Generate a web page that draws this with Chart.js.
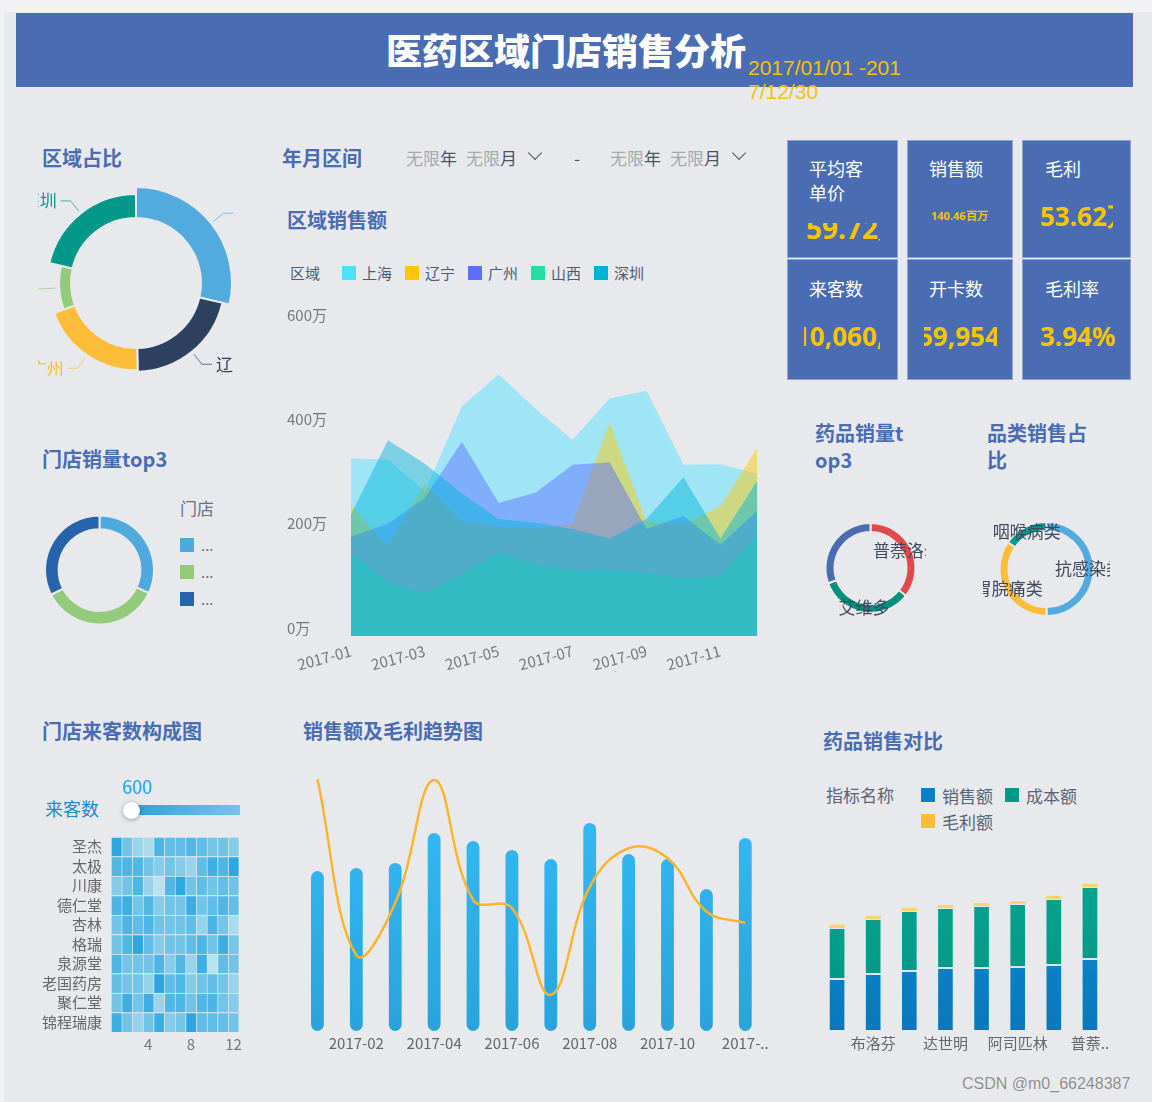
<!DOCTYPE html>
<html lang="zh-CN">
<head>
<meta charset="UTF-8">
<title>医药区域门店销售分析</title>
<script src="https://cdn.jsdelivr.net/npm/chart.js"></script>
<style>
  html, body { margin: 0; padding: 0; }
  body {
    width: 1152px; height: 1102px; position: relative; overflow: hidden;
    background: #f2f2f4;
    font-family: "Noto Sans CJK SC", "Noto Sans", sans-serif;
  }
  #board { position: absolute; left: 4px; top: 12px; right: 0; bottom: 0; background: #e8e9ed; }
  .abs { position: absolute; white-space: nowrap; }
  canvas { position: absolute; }
  .head { left: 16px; top: 13px; width: 1117px; height: 74px; background: #4a6cb3; }
  .head-title { left: 386px; top: 29px; font-size: 36px; line-height: 40px; font-weight: 900; color: #fff; }
  .head-date { left: 748px; top: 56px; font: 21px/24px "Liberation Sans", Arial, sans-serif; color: #f5c200; }
  .sec { font-size: 20px; line-height: 27px; font-weight: bold; color: #4a6cb3; }
  .filter { top: 147px; font-size: 17px; line-height: 22px; color: #4a5266; }
  .filter .g { color: #a3a8b3; }
  .chev { width: 9px; height: 9px; border-right: 1.6px solid #4a5266; border-bottom: 1.6px solid #4a5266; transform: rotate(45deg); }
  .card { background: #4a6cb3; box-sizing: border-box; border: 1px solid #8ea3d3; }
  .kt { font-size: 18px; line-height: 24px; color: #fff; }
  .clip { overflow: hidden; }
  .kv { position: absolute; font-family: "Noto Sans", sans-serif; font-weight: bold; color: #f6c500; white-space: nowrap; }
  .lg { display: flex; align-items: center; font-size: 15px; color: #4c5a72; }
  .lg .box { width: 14px; height: 14px; margin-right: 6px; }
  .lg .it { display: flex; align-items: center; margin-right: 13px; }
  .foot { left: 962px; top: 1074px; font: 16px/20px "Liberation Sans", Arial, sans-serif; color: #8c8c8c; text-shadow: 0 0 1px #fff; }
</style>
</head>
<body>
<div id="board"></div>

<div class="abs head"></div>
<div class="abs head-title">医药区域门店销售分析</div>
<div class="abs head-date">2017/01/01 -201<br>7/12/30</div>

<div class="abs sec" style="left:42px;top:144px">区域占比</div>
<div class="abs sec" style="left:282px;top:144px">年月区间</div>
<div class="abs sec" style="left:287px;top:206px">区域销售额</div>
<div class="abs sec" style="left:42px;top:445px">门店销量top3</div>
<div class="abs sec" style="left:815px;top:419px">药品销量t<br>op3</div>
<div class="abs sec" style="left:987px;top:419px">品类销售占<br>比</div>
<div class="abs sec" style="left:42px;top:717px">门店来客数构成图</div>
<div class="abs sec" style="left:303px;top:717px">销售额及毛利趋势图</div>
<div class="abs sec" style="left:823px;top:727px">药品销售对比</div>

<div class="abs filter" style="left:406px"><span class="g">无限</span>年</div>
<div class="abs filter" style="left:466px"><span class="g">无限</span>月</div>
<div class="abs chev" style="left:530px;top:148px"></div>
<div class="abs filter" style="left:574px">-</div>
<div class="abs filter" style="left:610px"><span class="g">无限</span>年</div>
<div class="abs filter" style="left:670px"><span class="g">无限</span>月</div>
<div class="abs chev" style="left:734px;top:148px"></div>

<div id="kpis"></div>

<canvas id="regionPie" width="196" height="200" style="left:38px;top:183px"></canvas>

<canvas id="storePie" width="109" height="110" style="left:45px;top:515px"></canvas>
<div class="abs" id="storeLegend" style="left:180px;top:497px"></div>

<div class="abs lg" id="areaLegend" style="left:290px;top:262px"></div>
<canvas id="areaChart" width="485" height="380" style="left:283px;top:303px"></canvas>

<canvas id="drugPie" width="111" height="120" style="left:815px;top:508px"></canvas>
<canvas id="catPie" width="127" height="120" style="left:983px;top:509px"></canvas>

<div class="abs" style="left:45px;top:797px;font-size:18px;line-height:22px;color:#1a8ad0">来客数</div>
<div class="abs" id="visitMin" style="left:122px;top:775px;font-size:18px;line-height:22px;color:#1aa3f0"></div>
<div class="abs" style="left:132px;top:805px;width:108px;height:10px;background:linear-gradient(to right,#2c9fdc,#74c4ea)"></div>
<div class="abs" style="left:123px;top:802px;width:17px;height:17px;border-radius:50%;background:#fff;box-shadow:0 1px 4px rgba(0,0,0,0.35)"></div>
<canvas id="heatChart" width="210" height="236" style="left:35px;top:819px"></canvas>

<canvas id="trendChart" width="482" height="287" style="left:290px;top:770px"></canvas>

<div class="abs" style="left:826px;top:784px;font-size:17px;line-height:22px;color:#5a6475">指标名称</div>
<div class="abs" id="drugLegend" style="left:921px;top:782px;width:190px"></div>
<canvas id="drugChart" width="305" height="186" style="left:812px;top:870px"></canvas>

<div class="abs foot">CSDN @m0_66248387</div>

<script>
// ---------- data ----------
const kpiTitles = ['平均客<br>单价', '销售额', '毛利', '来客数', '开卡数', '毛利率'];
const kpiValues = ['59.72万', '140.46百万', '53.62万', '10,060,5', '59,954', '3.94%'];

const regionNames = ['上海', '辽宁', '广州', '山西', '深圳'];
const regionShare = [28.6, 21.1, 19.7, 9.2, 21.4];

const storeTop3 = ['圣杰', '太极', '川康'];
const storeTop3Share = [32, 35.5, 32.5];

const months = ['2017-01', '2017-02', '2017-03', '2017-04', '2017-05', '2017-06',
                '2017-07', '2017-08', '2017-09', '2017-10', '2017-11', '2017-12'];
const areaTicks = [0, 200, 400, 600];
const salesShanghai = [325, 323, 262, 425, 486, 420, 361, 440, 455, 313, 314, 296];
const salesLiaoning = [236, 158, 276, 205, 195, 190, 200, 394, 205, 200, 233, 346];
const salesGuangzhou = [175, 200, 250, 357, 240, 260, 313, 318, 190, 215, 160, 225];
const salesShanxi = [144, 88, 67, 104, 144, 122, 110, 111, 107, 94, 100, 178];
const salesShenzhen = [218, 360, 315, 258, 209, 202, 190, 172, 209, 289, 172, 283];

const drugTop3 = ['普萘洛尔', '艾维多', '布洛芬'];
const drugTop3Share = [35.6, 33.9, 30.5];

const categoryNames = ['抗感染类', '胃脘痛类', '咽喉病类'];
const categoryShare = [50, 34.7, 15.3];

const visitMin = 600;
const heatStores = ['圣杰', '太极', '川康', '德仁堂', '杏林', '格瑞', '泉源堂', '老国药房', '聚仁堂', '锦程瑞康'];
const heatMonths = [1, 2, 3, 4, 5, 6, 7, 8, 9, 10, 11, 12];
const heatXTicks = ['4', '8', '12'];
const storeVisits = [
  [1415, 1030, 815, 715, 1225, 1110, 1125, 1210, 1120, 1010, 1035, 925],
  [1215, 1230, 1205, 1030, 920, 1015, 925, 815, 1120, 1315, 1220, 1425],
  [915, 1025, 1220, 820, 625, 1210, 1405, 1030, 1115, 1020, 1110, 1035],
  [1225, 1320, 1015, 1210, 925, 1025, 1010, 1330, 1020, 1125, 1215, 1110],
  [1020, 1225, 1115, 1220, 1030, 1015, 1025, 1120, 820, 1230, 1010, 720],
  [1015, 1210, 1410, 1120, 915, 1030, 1020, 1115, 1225, 1025, 1320, 1010],
  [1220, 1020, 1030, 1015, 1225, 920, 1215, 820, 1315, 625, 1120, 1025],
  [1110, 1025, 1015, 825, 1430, 1120, 1205, 925, 1030, 1110, 1020, 815],
  [1025, 1325, 1020, 1310, 815, 1215, 1220, 1025, 1210, 1225, 1015, 920],
  [1320, 1030, 820, 1015, 1325, 925, 1010, 1420, 1115, 1120, 1105, 1020]
];

const monthlySales = [1056, 1076, 1109, 1307, 1254, 1195, 1135, 1373, 1168, 1135, 937, 1274];
const monthlyProfit = [7.96, 2.40, 4.05, 7.94, 4.15, 3.89, 1.14, 4.56, 5.78, 5.47, 3.78, 3.42];

const drugNames = ['艾维多', '布洛芬', '感冒灵', '达世明', '板蓝根', '阿司匹林', '维C银翘片', '普萘洛尔'];
const metricNames = ['销售额', '成本额', '毛利额'];
const drugSales = [52, 57, 60, 63, 63, 64, 66, 72];
const drugCost = [51, 55, 60, 60, 62, 63, 66, 72];
const drugProfit = [3.3, 3.3, 3.3, 3, 3, 3, 3.3, 3.3];

// ---------- colours ----------
const regionPieColors = ['#52aadf', '#2d405f', '#fdbd39', '#93cb7a', '#03998a'];
const storeColors = ['#4fa8de', '#93cb7a', '#2563ab'];
const areaColors = ['#4ee1ff', '#ffc800', '#5b6eff', '#21e0a0', '#00b4d8'];
const areaOrder = [5, 4, 3, 2, 1]; // 上海 at the back, 深圳 in front
const drugTop3Colors = ['#e04a4c', '#00927a', '#4a6cb3'];
const categoryColors = ['#52aadf', '#fdbd39', '#03998a'];
const metricColors = ['#0a80c8', '#009b85', '#fbbd37'];

Chart.defaults.font.family = '"Noto Sans CJK SC", "Noto Sans", sans-serif';
Chart.defaults.animation = false;
Chart.defaults.responsive = false;
Chart.defaults.maintainAspectRatio = false;
Chart.defaults.plugins.legend.display = false;
Chart.defaults.plugins.tooltip.enabled = false;
Chart.defaults.color = '#777';

function rgba(hex, a) {
  const n = parseInt(hex.slice(1), 16);
  return `rgba(${n >> 16}, ${(n >> 8) & 255}, ${n & 255}, ${a})`;
}

const noGrid = { display: false, drawTicks: false };

// ---------- KPI cards ----------
const cardBoxes = [
  [787, 140, 111, 118], [907, 140, 106, 118], [1022, 140, 109, 118],
  [787, 259, 111, 121], [907, 259, 106, 121], [1022, 259, 109, 121]
];
const titlePos = [[809, 156], [929, 156], [1045, 156], [809, 276], [929, 276], [1045, 276]];
// clip window [left, top, width, height], text offset [x, y], font size
const valueClip = [
  [806, 223, 74, 20, 0, -10, 28], [931, 208, 80, 16, 0, 0, 11], [1040, 200, 73, 32, 0, 1, 26],
  [804, 320, 76, 32, -9, 1, 26], [924, 320, 73, 32, -6, 1, 26], [1040, 320, 80, 32, 0, 1, 26]
];
const kpiBox = document.getElementById('kpis');
cardBoxes.forEach((b, i) => {
  const c = valueClip[i];
  kpiBox.insertAdjacentHTML('beforeend',
    `<div class="abs card" style="left:${b[0]}px;top:${b[1]}px;width:${b[2]}px;height:${b[3]}px"></div>` +
    `<div class="abs kt" style="left:${titlePos[i][0]}px;top:${titlePos[i][1]}px">${kpiTitles[i]}</div>` +
    `<div class="abs clip" style="left:${c[0]}px;top:${c[1]}px;width:${c[2]}px;height:${c[3]}px">` +
    `<span class="kv" style="left:${c[4]}px;top:${c[5]}px;font-size:${c[6]}px;line-height:${c[6] > 12 ? 30 : 16}px">${kpiValues[i]}</span></div>`);
});

document.getElementById('visitMin').textContent = visitMin;

// ---------- legends ----------
const areaLegend = document.getElementById('areaLegend');
areaLegend.innerHTML = '<span style="margin-right:22px">区域</span>' + regionNames.map((n, i) =>
  `<span class="it"><span class="box" style="background:${areaColors[i]}"></span>${n}</span>`).join('');

// store names are too long for the legend column and show truncated
document.getElementById('storeLegend').innerHTML =
  '<div style="font-size:17px;line-height:22px;color:#6a7280;margin-bottom:12px">门店</div>' +
  storeTop3.map((n, i) =>
    `<div style="display:flex;align-items:center;height:27px" title="${n}"><span style="width:14px;height:14px;background:${storeColors[i]};margin-right:7px"></span>` +
    `<span style="font-size:15px;line-height:14px;color:#6a7280">...</span></div>`).join('');

document.getElementById('drugLegend').innerHTML = '<div class="lg" style="flex-wrap:wrap;font-size:17px;color:#5a6475">' +
  metricNames.map((n, i) =>
    `<span class="it" style="height:26px;margin-right:12px"><span class="box" style="background:${metricColors[i]};margin-right:7px"></span>${n}</span>`).join('') +
  '</div>';

// ---------- plugins ----------
// ring thickness follows the share (rose-like doughnut)
const roseRing = {
  id: 'roseRing',
  afterDatasetsUpdate(chart, args, opts) {
    const vals = chart.data.datasets[0].data;
    const max = Math.max(...vals);
    chart.getDatasetMeta(0).data.forEach((arc, i) => {
      arc.outerRadius = arc.innerRadius + opts.base + opts.span * vals[i] / max;
    });
  }
};

const outerLabels = {
  id: 'outerLabels',
  afterDatasetsDraw(chart) {
    const {ctx} = chart;
    const ds = chart.data.datasets[0];
    ctx.save();
    ctx.font = '17px "Noto Sans CJK SC"';
    ctx.textBaseline = 'middle';
    ctx.lineWidth = 1;
    chart.getDatasetMeta(0).data.forEach((arc, i) => {
      const mid = (arc.startAngle + arc.endAngle) / 2;
      const cos = Math.cos(mid), sin = Math.sin(mid);
      const r1 = arc.outerRadius + 3, r2 = arc.outerRadius + 16;
      const x2 = arc.x + cos * r2, y2 = arc.y + sin * r2;
      const dir = cos >= 0 ? 1 : -1;
      const col = ds.backgroundColor[i];
      ctx.strokeStyle = rgba(col, 0.7);
      ctx.beginPath();
      ctx.moveTo(arc.x + cos * r1, arc.y + sin * r1);
      ctx.lineTo(x2, y2);
      ctx.lineTo(x2 + dir * 10, y2);
      ctx.stroke();
      ctx.fillStyle = col;
      ctx.textAlign = dir > 0 ? 'left' : 'right';
      ctx.fillText(chart.data.labels[i], x2 + dir * 14, y2);
    });
    ctx.restore();
  }
};

const ringLabels = {
  id: 'ringLabels',
  afterDatasetsDraw(chart, args, opts) {
    const {ctx} = chart;
    const hidden = opts.hidden || [];
    ctx.save();
    ctx.font = '17px "Noto Sans CJK SC"';
    ctx.textAlign = 'center';
    ctx.textBaseline = 'middle';
    ctx.fillStyle = '#3e4a5c';
    chart.getDatasetMeta(0).data.forEach((arc, i) => {
      if (hidden.includes(i)) return;
      const mid = (arc.startAngle + arc.endAngle) / 2;
      const r = (arc.innerRadius + arc.outerRadius) / 2;
      ctx.fillText(chart.data.labels[i], arc.x + Math.cos(mid) * r, arc.y + Math.sin(mid) * r);
    });
    ctx.restore();
  }
};

function ring(id, labels, values, colors, radius, cutout, extra) {
  return new Chart(document.getElementById(id), {
    type: 'doughnut',
    data: {
      labels: labels,
      datasets: [{ data: values, backgroundColor: colors, borderColor: '#e8e9ed', borderWidth: 2 }]
    },
    options: Object.assign({ radius: radius, cutout: cutout, layout: { padding: 0 } }, extra.options || {}),
    plugins: extra.plugins || []
  });
}

// ---------- doughnuts ----------
ring('regionPie', regionNames, regionShare, regionPieColors, 96, '67.7%', {
  plugins: [roseRing, outerLabels],
  options: { plugins: { roseRing: { base: 3, span: 28 } } }
});
ring('storePie', storeTop3, storeTop3Share, storeColors, 54.5, '75%', {});
ring('drugPie', drugTop3, drugTop3Share, drugTop3Colors, 45, '80%', {
  plugins: [ringLabels],
  options: { plugins: { ringLabels: { hidden: [2] } } }
});
ring('catPie', categoryNames, categoryShare, categoryColors, 47, '81%', {
  plugins: [ringLabels],
  options: { plugins: { ringLabels: {} } }
});

// ---------- region sales area chart ----------
const areaSeries = [salesShanghai, salesLiaoning, salesGuangzhou, salesShanxi, salesShenzhen];
new Chart(document.getElementById('areaChart'), {
  type: 'line',
  data: {
    labels: months,
    datasets: areaSeries.map((s, i) => ({
      label: regionNames[i],
      data: s,
      order: areaOrder[i],
      fill: 'start',
      backgroundColor: rgba(areaColors[i], 0.47),
      borderWidth: 0,
      pointRadius: 0,
      tension: 0
    }))
  },
  options: {
    layout: { padding: { left: 4, right: 8 } },
    scales: {
      x: {
        grid: noGrid, border: { display: false },
        ticks: {
          autoSkip: false, minRotation: 15, maxRotation: 15, color: '#777', font: { size: 15 }, padding: 6,
          callback: (v, i) => i % 2 === 0 ? months[i] : ''
        },
        afterFit: (s) => { s.height = 47; }
      },
      y: {
        min: -15, max: 600,
        grid: noGrid, border: { display: false },
        ticks: { color: '#777', font: { size: 15 }, crossAlign: 'far', callback: (v) => v + '万' },
        afterBuildTicks: (s) => { s.ticks = areaTicks.map(v => ({ value: v })); },
        afterFit: (s) => { s.width = 64; }
      }
    }
  }
});

// ---------- visitors heatmap (stacked unit bars, one stack per store) ----------
const allVisits = storeVisits.flat();
const vMin = Math.min(...allVisits), vMax = Math.max(...allVisits);
function heatColor(v) {
  const t = (v - vMin) / (vMax - vMin);
  const a = [186, 226, 238], b = [40, 166, 226];
  return `rgb(${a.map((c, k) => Math.round(c + (b[k] - c) * t)).join(',')})`;
}
new Chart(document.getElementById('heatChart'), {
  type: 'bar',
  data: {
    labels: heatStores,
    datasets: heatMonths.map((m, j) => ({
      label: m + '月',
      data: heatStores.map(() => 1), // every cell is one month wide
      backgroundColor: (c) => heatColor(storeVisits[c.dataIndex][j]),
      borderColor: 'rgba(214,236,246,0.9)',
      borderWidth: { top: 1, left: 1, right: 0, bottom: 0 },
      borderSkipped: false,
      barPercentage: 1,
      categoryPercentage: 1
    }))
  },
  options: {
    indexAxis: 'y',
    layout: { padding: { right: 5, top: 0 } },
    scales: {
      x: {
        stacked: true, min: 0, max: 12,
        grid: noGrid, border: { display: false },
        ticks: { color: '#777', font: { size: 15 }, padding: 3, callback: (v, i) => heatXTicks[i] },
        afterBuildTicks: (s) => { s.ticks = heatXTicks.map(t => ({ value: Number(t) - 0.5 })); },
        afterFit: (s) => { s.height = 23; }
      },
      y: {
        stacked: true,
        grid: noGrid, border: { display: false },
        ticks: { autoSkip: false, color: '#666', font: { size: 15 }, padding: 9 },
        afterFit: (s) => { s.width = 76; }
      }
    }
  }
});

// ---------- sales & gross profit trend ----------
function vGrad(top, bottom) {
  return (c) => {
    const {ctx, chartArea} = c.chart;
    if (!chartArea) return top;
    const g = ctx.createLinearGradient(0, chartArea.top, 0, chartArea.bottom);
    g.addColorStop(0, top);
    g.addColorStop(1, bottom);
    return g;
  };
}
new Chart(document.getElementById('trendChart'), {
  data: {
    labels: months,
    datasets: [
      {
        type: 'line', label: '毛利', data: monthlyProfit, yAxisID: 'y1', order: 0,
        borderColor: '#fbb52e', borderWidth: 2.5, tension: 0.4, pointRadius: 0, clip: 4
      },
      {
        type: 'bar', label: '销售额', data: monthlySales, yAxisID: 'y', order: 1,
        backgroundColor: vGrad('#35bdf8', '#2aa3dc'),
        borderRadius: 7, borderSkipped: false, barPercentage: 0.33, categoryPercentage: 1
      }
    ]
  },
  options: {
    layout: { padding: { left: 8, right: 7, top: 8 } },
    scales: {
      x: {
        grid: noGrid, border: { display: false },
        ticks: {
          autoSkip: false, maxRotation: 0, color: '#666', font: { size: 15 }, padding: 3,
          callback: (v, i) => i % 2 === 1 ? (i === months.length - 1 ? months[i].slice(0, 5) + '..' : months[i]) : ''
        },
        afterFit: (s) => { s.height = 26; }
      },
      y: { display: false, min: 0, max: 1670 },
      y1: { display: false, min: 0, max: 8 }
    }
  }
});

// ---------- drug comparison stacked bars ----------
const metricSeries = [drugSales, drugCost, drugProfit];
const metricGrads = [['#0b8bd8', '#0a77ba'], ['#04a38f', '#019580'], ['#fcd46a', '#fcd46a']];
new Chart(document.getElementById('drugChart'), {
  type: 'bar',
  data: {
    labels: drugNames,
    datasets: metricSeries.map((s, i) => ({
      label: metricNames[i],
      data: s,
      backgroundColor: vGrad(metricGrads[i][0], metricGrads[i][1]),
      borderColor: 'rgba(220,234,244,0.9)',
      borderWidth: i === 2 ? 0 : 1,
      borderRadius: 2,
      borderSkipped: false,
      barPercentage: 0.46,
      categoryPercentage: 1
    }))
  },
  options: {
    layout: { padding: { left: 7, right: 9, top: 11 } },
    scales: {
      x: {
        stacked: true,
        grid: noGrid, border: { display: false },
        ticks: {
          autoSkip: false, maxRotation: 0, color: '#666', font: { size: 15 }, padding: 3,
          callback: (v, i) => i % 2 === 1 ? (i === drugNames.length - 1 ? drugNames[i].slice(0, 2) + '..' : drugNames[i]) : ''
        },
        afterFit: (s) => { s.height = 25; }
      },
      y: { stacked: true, display: false, min: 0, max: 150 }
    }
  }
});
</script>
</body>
</html>
